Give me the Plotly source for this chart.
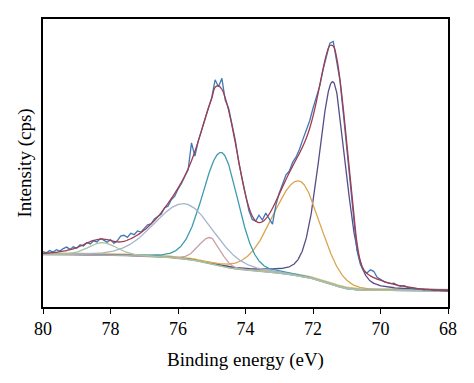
import numpy as np
import plotly.graph_objects as go

# Binding-energy grid of the recorded spectrum (eV), 80 -> 68 in 0.1 eV steps
energy = [round(80 - 0.1 * i, 1) for i in range(121)]

measured = [
    19.2, 18.8, 19.6, 19.1, 19.9, 19.4, 20.3, 20.8, 20.0, 20.9,
    20.4, 21.6, 21.2, 22.4, 21.9, 23.0, 22.6, 23.8, 23.2, 22.5,
    23.4, 22.1, 23.0, 24.6, 24.9, 24.2, 25.6, 25.1, 26.4, 26.0,
    27.3, 28.5, 28.9, 30.6, 31.4, 32.2, 34.4, 35.0, 37.2, 38.4,
    40.9, 42.8, 45.3, 47.6, 57.0, 52.4, 57.6, 61.5, 65.2, 69.5,
    72.8, 78.9, 76.5, 79.4, 71.8, 69.0, 63.5, 57.8, 50.2, 44.6,
    38.2, 33.5, 30.4, 29.8, 31.9, 30.2, 32.6, 30.9, 28.8, 35.4,
    39.6, 42.7, 45.9, 47.2, 50.3, 52.1, 54.8, 58.2, 61.3, 64.6,
    69.0, 73.4, 76.8, 82.5, 87.4, 91.6, 92.2, 86.0, 78.5, 67.0,
    55.3, 44.1, 31.5, 19.8, 14.9, 12.6, 11.8, 12.9, 12.4, 10.3,
    9.6, 8.8, 8.5, 8.1, 8.3, 7.5, 7.2, 7.4, 6.8, 6.7,
    6.3, 6.4, 6.1, 5.9, 6.0, 5.8, 5.7, 5.9, 5.6, 5.6,
    5.5,
]

# Fitted envelope (red)
envelope = [
    18.6, 18.7, 18.8, 18.9, 19.0, 19.2, 19.4, 19.6, 19.9, 20.2,
    20.6, 21.1, 21.6, 22.2, 22.7, 23.1, 23.4, 23.6, 23.6, 23.4,
    23.1, 22.8, 22.6, 22.6, 22.8, 23.2, 23.7, 24.3, 25.0, 25.8,
    26.7, 27.7, 28.8, 30.0, 31.3, 32.7, 34.3, 35.9, 37.6, 39.4,
    41.3, 43.3, 45.5, 48.0, 50.8, 54.0, 57.6, 61.4, 65.3, 69.1,
    72.4, 76.3, 76.8, 75.6, 72.6, 68.3, 62.9, 56.9, 50.6, 44.4,
    38.9, 34.6, 31.6, 29.9, 29.3, 29.6, 30.6, 32.2, 34.3, 36.7,
    39.2, 41.8, 44.3, 46.7, 49.0, 51.2, 53.4, 55.8, 58.6, 62.0,
    66.2, 71.3, 77.0, 82.8, 87.8, 90.8, 90.6, 86.6, 78.9, 68.6,
    57.0, 45.2, 33.6, 22.5, 16.0, 13.0, 11.6, 10.8, 10.2, 9.7,
    9.3, 8.9, 8.5, 8.2, 7.9, 7.6, 7.4, 7.2, 7.0, 6.8,
    6.6, 6.4, 6.3, 6.2, 6.1, 6.0, 5.9, 5.8, 5.8, 5.7,
    5.7,
]

# Fitted components: centre (eV), height above background, FWHM high-BE side, FWHM low-BE side,
# Lorentzian fraction of the line shape
comp_center = [71.41, 72.41, 74.71, 75.04, 75.80, 78.23]
comp_height = [70.5, 33.0, 39.5, 9.0, 19.2, 4.3]
comp_fwhm_hi = [0.98, 1.80, 1.30, 0.80, 2.10, 1.00]
comp_fwhm_lo = [0.90, 1.45, 1.15, 0.70, 2.00, 1.00]
comp_lorentz = [0.25, 0.12, 0.12, 0.12, 0.12, 0.12]
comp_color = ["#5b4b8a", "#dba54e", "#3d9bb0", "#c7a0a8", "#a4b4cc", "#a9c2a6"]
bg_right, bg_left = 5.6, 18.2   # Shirley background end levels

xg = np.linspace(68, 80, 1201)

def peak(x, c, h, whi, wlo, m):
    w = np.where(x >= c, whi, wlo)
    u = (x - c) / w
    g = np.exp(-4 * np.log(2) * u ** 2)
    l = 1 / (1 + 4 * u ** 2)
    return h * ((1 - m) * g + m * l)

peaks = [peak(xg, c, h, a, b, m) for c, h, a, b, m in
         zip(comp_center, comp_height, comp_fwhm_hi, comp_fwhm_lo, comp_lorentz)]
total = np.sum(peaks, axis=0)
cum = np.cumsum(total)
background = bg_right + (bg_left - bg_right) * cum / cum[-1]

fig = go.Figure()
fig.add_trace(go.Scatter(x=xg, y=background + 0.5, mode="lines", line=dict(color="#d2be6c", width=1.3)))
fig.add_trace(go.Scatter(x=xg, y=background, mode="lines", line=dict(color="#72b8a4", width=1.3)))
for p, col in zip(peaks, comp_color):
    fig.add_trace(go.Scatter(x=xg, y=background + p, mode="lines", line=dict(color=col, width=1.3)))
fig.add_trace(go.Scatter(x=energy, y=measured, mode="lines", line=dict(color="#3f78b5", width=1.3)))
fig.add_trace(go.Scatter(x=energy, y=envelope, mode="lines", line=dict(color="#a03c50", width=1.3, shape="spline")))

# the page body adds an 8 px offset, so the figure is sized to fill the rest of the window
fig.update_layout(
    width=466, height=375, margin=dict(l=35, r=26, t=9, b=76),
    paper_bgcolor="white", plot_bgcolor="white", showlegend=False,
    font=dict(family="Liberation Serif", color="black"),
)
fig.update_xaxes(range=[80, 68], tickvals=[80, 78, 76, 74, 72, 70, 68], ticks="outside", ticklen=5,
                 tickcolor="black", showline=True, linecolor="black", linewidth=1.5, mirror=True,
                 showgrid=False, zeroline=False, tickfont=dict(size=18),
                 title=dict(text="Binding energy (eV)", font=dict(size=19), standoff=14))
fig.update_yaxes(range=[0, 100], showticklabels=False, ticks="", showline=True, linecolor="black",
                 linewidth=1.5, mirror=True, showgrid=False, zeroline=False,
                 title=dict(text="Intensity (cps)", font=dict(size=19), standoff=5))
fig.write_html("out.html")
